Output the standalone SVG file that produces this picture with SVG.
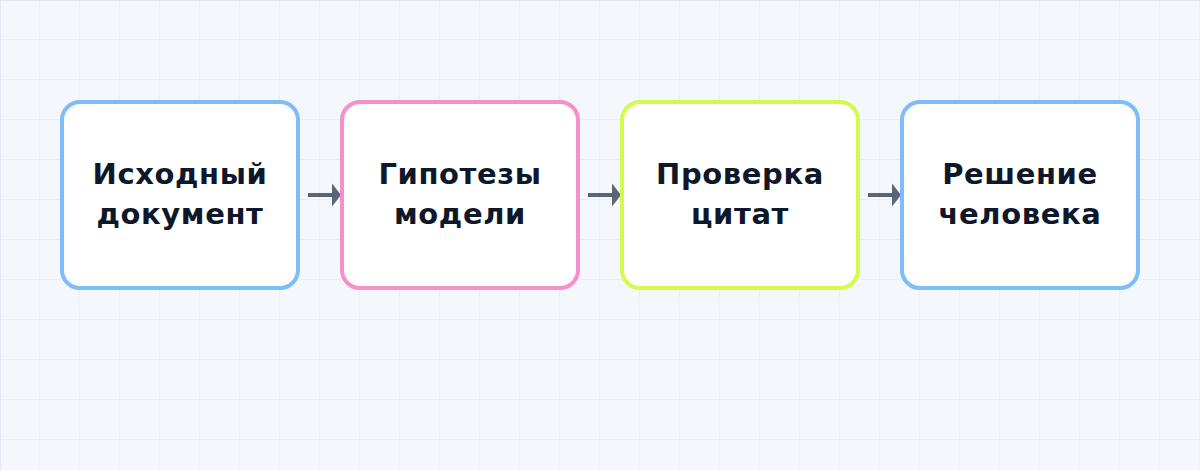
<svg xmlns="http://www.w3.org/2000/svg" width="1200" height="470" viewBox="0 0 1200 470">
<defs>
<pattern id="grid" width="40" height="40" patternUnits="userSpaceOnUse">
<rect width="40" height="40" fill="#f4f7fb"/>
<path d="M40 0V40M0 40H40" fill="none" stroke="#e1e8f3" stroke-width="1"/>
</pattern>
<style>
.box{fill:#ffffff;stroke-width:4}
.lbl{font-family:"DejaVu Sans",sans-serif;font-weight:bold;font-size:29px;fill:#0f172a;text-anchor:middle;letter-spacing:0.6px}
.conn{stroke:#5b6479;stroke-width:4;fill:none}
.head{fill:#5b6479}
</style>
</defs>
<rect width="1200" height="470" fill="url(#grid)"/>
<path d="M0.5 0V470M0 0.5H1200" stroke="#e1e8f3" stroke-width="1"/>
<g id="connectors">
<line class="conn" x1="308" y1="195" x2="334" y2="195"/>
<path class="head" d="M332 183.5L341 195L332 206.5Z"/>
<line class="conn" x1="588" y1="195" x2="614" y2="195"/>
<path class="head" d="M612 183.5L621 195L612 206.5Z"/>
<line class="conn" x1="868" y1="195" x2="894" y2="195"/>
<path class="head" d="M892 183.5L901 195L892 206.5Z"/>
</g>
<g id="node1">
<rect class="box" x="62" y="102" width="236" height="186" rx="18" stroke="#7fbdf8"/>
<text class="lbl" x="180" y="184">Исходный</text>
<text class="lbl" x="180" y="224">документ</text>
</g>
<g id="node2">
<rect class="box" x="342" y="102" width="236" height="186" rx="18" stroke="#f78fcc"/>
<text class="lbl" x="460" y="184">Гипотезы</text>
<text class="lbl" x="460" y="224">модели</text>
</g>
<g id="node3">
<rect class="box" x="622" y="102" width="236" height="186" rx="18" stroke="#d4fa4b"/>
<text class="lbl" x="740" y="184">Проверка</text>
<text class="lbl" x="740" y="224">цитат</text>
</g>
<g id="node4">
<rect class="box" x="902" y="102" width="236" height="186" rx="18" stroke="#7fbdf8"/>
<text class="lbl" x="1020" y="184">Решение</text>
<text class="lbl" x="1020" y="224">человека</text>
</g>
</svg>
